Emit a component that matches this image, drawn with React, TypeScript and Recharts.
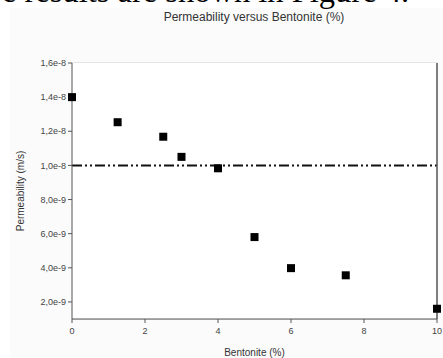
import React from "react";
import { ScatterChart, Scatter, XAxis, YAxis, CartesianGrid, ReferenceLine, Label } from "recharts";

const bentonite = [0, 1.25, 2.5, 3, 4, 5, 6, 7.5, 10];
const permeability = [1.4e-8, 1.253e-8, 1.168e-8, 1.05e-8, 9.83e-9, 5.8e-9, 3.98e-9, 3.56e-9, 1.6e-9];
const xTicks = [0, 2, 4, 6, 8, 10];
const yTicks = [2e-9, 4e-9, 6e-9, 8e-9, 1e-8, 1.2e-8, 1.4e-8, 1.6e-8];
const limitValue = 1e-8;
const title = "Permeability versus Bentonite (%)";
const headerText = "e results are shown in Figure 4.";

const data = bentonite.map((b, i) => ({ x: b, y: permeability[i] }));

const fmtY = (v: number) => v.toExponential(1).replace(".", ",");

const Square = (props: any) => {
  const { cx, cy } = props;
  return <rect x={cx - 4} y={cy - 4} width={8} height={8} fill="#000" />;
};

export default function App() {
  return (
    <div style={{ position: "absolute", left: 0, top: 0, width: 443, height: 358, background: "#fff", overflow: "hidden" }}>
      <div style={{ position: "absolute", left: 10, top: 8, width: 433, height: 350, background: "#fbfbfb" }} />
      <div
        style={{
          position: "absolute",
          left: 2,
          top: -27,
          fontFamily: "'Liberation Serif', 'DejaVu Serif', serif",
          fontSize: 32.5,
          lineHeight: "36px",
          whiteSpace: "nowrap",
          color: "#000",
        }}
      >
        {headerText}
      </div>
      <div style={{ position: "absolute", left: 0, top: 0 }}>
        <ScatterChart width={443} height={358} margin={{ top: 63, right: 6, left: 0, bottom: 0 }}>
          <text x={254} y={21} textAnchor="middle" fontFamily="'Liberation Sans', Arial, sans-serif" fontSize={12} fill="#333">
            {title}
          </text>
          <rect x={72} y={63} width={365} height={256} fill="#fff" />
          <CartesianGrid vertical={false} stroke="#cfcfcf" strokeWidth={1.2} />
          <XAxis
            type="number"
            dataKey="x"
            domain={[0, 10]}
            ticks={xTicks}
            height={39}
            stroke="#555"
            tickLine={{ stroke: "#555" }}
            tickSize={4}
            tick={{ fontSize: 9, fill: "#444", fontFamily: "'Liberation Sans', Arial, sans-serif" }}
            tickMargin={5}
          >
            <Label value="Bentonite (%)" position="insideBottom" offset={2} style={{ fontSize: 10, fill: "#333", fontFamily: "'Liberation Sans', Arial, sans-serif" }} />
          </XAxis>
          <YAxis
            type="number"
            dataKey="y"
            domain={[1e-9, 1.6e-8]}
            ticks={yTicks}
            width={72}
            stroke="#555"
            tickLine={{ stroke: "#555" }}
            tickSize={4}
            tickFormatter={fmtY}
            tick={{ fontSize: 9, fill: "#444", fontFamily: "'Liberation Sans', Arial, sans-serif" }}
            allowDataOverflow
          >
            <Label value="Permeability (m/s)" angle={-90} position="insideLeft" offset={20} style={{ textAnchor: "middle", fontSize: 10, fill: "#333", fontFamily: "'Liberation Sans', Arial, sans-serif" }} />
          </YAxis>
          <ReferenceLine y={limitValue} stroke="#111" strokeWidth={2} strokeDasharray="10 3 2 3 2 3" />
          <ReferenceLine x={10} stroke="#555" strokeWidth={1.5} />
          <Scatter data={data} shape={<Square />} isAnimationActive={false} />
        </ScatterChart>
      </div>
    </div>
  );
}
